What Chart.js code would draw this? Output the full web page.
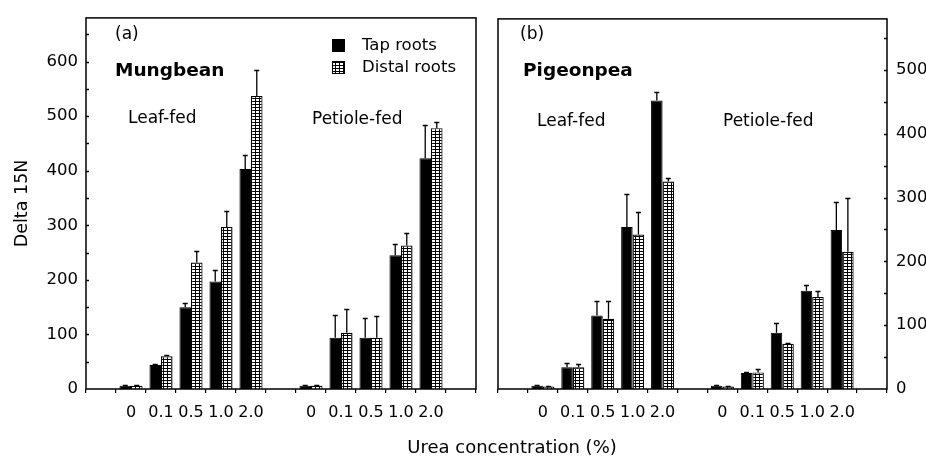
<!DOCTYPE html>
<html lang="en">
<head>
<meta charset="UTF-8">
<title>Delta 15N in roots</title>
<script src="https://cdn.jsdelivr.net/npm/chart.js"></script>
<style>
  body { margin: 0; background: #fff; }
  #wrap { position: relative; width: 926px; height: 457px; font-family: "DejaVu Sans", sans-serif; color: #000; }
  canvas { position: absolute; top: 0; }
  #chartA { left: 0; }
  #chartB { left: 480px; }
  .txt { position: absolute; white-space: nowrap; font-size: 17px; line-height: 1; transform: translateY(-50%); }
  .bold { font-weight: bold; font-size: 18.5px; }
</style>
</head>
<body>
<div id="wrap">
  <canvas id="chartA" width="480" height="457"></canvas>
  <canvas id="chartB" width="446" height="457"></canvas>

  <div class="txt" style="left:115px; top:33px">(a)</div>
  <div class="txt bold" style="left:115px; top:70px">Mungbean</div>
  <div class="txt" style="left:128px; top:117px">Leaf-fed</div>
  <div class="txt" style="left:312px; top:118px">Petiole-fed</div>

  <div class="txt" style="left:520px; top:33px">(b)</div>
  <div class="txt bold" style="left:523px; top:70px">Pigeonpea</div>
  <div class="txt" style="left:537px; top:120px">Leaf-fed</div>
  <div class="txt" style="left:723px; top:120px">Petiole-fed</div>

  <div class="txt" style="left:512px; top:447px; font-size:18px; transform:translate(-50%,-50%)">Urea concentration (%)</div>
</div>

<script>
// urea concentrations for each feeding method
const concentrations = ["0", "0.1", "0.5", "1.0", "2.0"];

// Mungbean (a)
const mungTapLeaf = [6, 44, 150, 197, 403];
const mungTapLeafSE = [1, 2, 7, 21, 26];
const mungDistalLeaf = [6, 60, 232, 297, 537];
const mungDistalLeafSE = [1, 2, 20, 29, 48];
const mungTapPetiole = [6, 94, 94, 245, 423];
const mungTapPetioleSE = [1, 41, 37, 21, 60];
const mungDistalPetiole = [6, 103, 94, 263, 478];
const mungDistalPetioleSE = [1, 43, 40, 23, 11];

// Pigeonpea (b)
const pigeonTapLeaf = [5, 34, 115, 254, 452];
const pigeonTapLeafSE = [1, 7, 23, 51, 14];
const pigeonDistalLeaf = [4, 34, 110, 242, 325];
const pigeonDistalLeafSE = [1, 5, 28, 36, 6];
const pigeonTapPetiole = [5, 25, 88, 154, 249];
const pigeonTapPetioleSE = [1, 1, 16, 9, 44];
const pigeonDistalPetiole = [4, 26, 71, 144, 215];
const pigeonDistalPetioleSE = [1, 5, 1, 9, 85];

const mungTicks = [0, 100, 200, 300, 400, 500, 600];
const pigeonTicks = [0, 100, 200, 300, 400, 500];

// slots on the x axis: gap, leaf-fed x5, gap, petiole-fed x5, gap
const slotLabels = ["", ...concentrations, "", ...concentrations, ""];
function slots(leaf, petiole) {
    return [null, ...leaf, null, ...petiole, null];
}

Chart.defaults.font.family = "'DejaVu Sans', sans-serif";
Chart.defaults.color = "#000";

// white cells in a thin black grid, like the distal roots fill
function dotPattern() {
    const c = document.createElement("canvas");
    c.width = 4; c.height = 3;
    const g = c.getContext("2d");
    g.fillStyle = "#000"; g.fillRect(0, 0, 4, 3);
    g.fillStyle = "#fff"; g.fillRect(0, 0, 3, 2);
    return g.createPattern(c, "repeat");
}
const pattern = dotPattern();

// error bars, box frame, inward y ticks and (optionally) the legend
const framePlugin = {
    id: "frame",
    afterDatasetsDraw(chart, args, opts) {
        const { ctx, chartArea: a } = chart;
        const y = chart.scales.y;
        ctx.save();
        ctx.strokeStyle = "#000";

        ctx.lineWidth = 1.3;
        chart.data.datasets.forEach((ds, i) => {
            chart.getDatasetMeta(i).data.forEach((bar, j) => {
                const v = ds.data[j];
                if (v == null) return;
                const top = Math.round(y.getPixelForValue(v + ds.se[j])) + 0.5;
                ctx.beginPath();
                ctx.moveTo(bar.x, bar.y);
                ctx.lineTo(bar.x, top);
                ctx.moveTo(bar.x - 2.5, top);
                ctx.lineTo(bar.x + 2.5, top);
                ctx.stroke();
            });
        });

        ctx.lineWidth = 1.5;
        ctx.strokeRect(a.left, a.top, a.right - a.left, a.bottom - a.top);

        const x0 = opts.side === "left" ? a.left : a.right;
        const dir = opts.side === "left" ? 1 : -1;
        ctx.beginPath();
        for (let v = 50; v <= y.max; v += 50) {
            const py = Math.round(y.getPixelForValue(v)) + 0.5;
            ctx.moveTo(x0, py);
            ctx.lineTo(x0 + dir * 3, py);
        }
        ctx.stroke();

        if (opts.legend) {
            ctx.fillStyle = "#000";
            ctx.fillRect(332, 39, 13, 13);
            ctx.fillStyle = pattern;
            ctx.fillRect(333, 62, 11, 11);
            ctx.lineWidth = 1;
            ctx.strokeRect(332.5, 61.5, 12, 12);
            ctx.fillStyle = "#000";
            ctx.font = "16.5px 'DejaVu Sans'";
            ctx.textBaseline = "middle";
            ctx.fillText("Tap roots", 362, 46);
            ctx.fillText("Distal roots", 362, 68);
        }
        ctx.restore();
    }
};

function makeChart(id, series, cfg) {
    return new Chart(document.getElementById(id), {
        type: "bar",
        data: {
            labels: slotLabels,
            datasets: [
                {
                    label: "Tap roots",
                    data: slots(series.tapLeaf, series.tapPetiole),
                    se: slots(series.tapLeafSE, series.tapPetioleSE),
                    backgroundColor: "#000",
                    borderColor: "#000",
                    borderWidth: 1
                },
                {
                    label: "Distal roots",
                    data: slots(series.distalLeaf, series.distalPetiole),
                    se: slots(series.distalLeafSE, series.distalPetioleSE),
                    backgroundColor: pattern,
                    borderColor: "#000",
                    borderWidth: 1.2
                }
            ]
        },
        options: {
            responsive: false,
            animation: false,
            layout: { padding: cfg.padding },
            datasets: { bar: { categoryPercentage: 0.77, barPercentage: 1 } },
            plugins: {
                legend: { display: false },
                tooltip: { enabled: false },
                frame: { side: cfg.side, legend: cfg.legend }
            },
            scales: {
                x: {
                    grid: { drawOnChartArea: false, tickLength: 4, color: "#000", lineWidth: 1.2 },
                    border: { display: false },
                    ticks: { font: { size: 16 }, padding: 10, maxRotation: 0, autoSkip: false },
                    afterFit(s) { s.height = 68; }
                },
                y: {
                    position: cfg.side,
                    min: 0,
                    max: cfg.max,
                    grid: { display: false, drawTicks: false, tickLength: 0 },
                    border: { display: false },
                    afterBuildTicks(s) { s.ticks = cfg.ticks.map(v => ({ value: v })); },
                    ticks: { font: { size: 16.5 }, padding: cfg.side === "left" ? 8 : 9 },
                    title: {
                        display: !!cfg.title,
                        text: cfg.title,
                        font: { size: 17.5 },
                        padding: { top: 12, bottom: 0 }
                    },
                    afterFit(s) { s.width = cfg.axisWidth; }
                }
            }
        },
        plugins: [framePlugin]
    });
}

makeChart("chartA", {
    tapLeaf: mungTapLeaf, tapLeafSE: mungTapLeafSE,
    tapPetiole: mungTapPetiole, tapPetioleSE: mungTapPetioleSE,
    distalLeaf: mungDistalLeaf, distalLeafSE: mungDistalLeafSE,
    distalPetiole: mungDistalPetiole, distalPetioleSE: mungDistalPetioleSE
}, {
    side: "left", max: 680, ticks: mungTicks, title: "Delta 15N", legend: true,
    axisWidth: 86, padding: { top: 15, right: 4, bottom: 0, left: 0 }
});

makeChart("chartB", {
    tapLeaf: pigeonTapLeaf, tapLeafSE: pigeonTapLeafSE,
    tapPetiole: pigeonTapPetiole, tapPetioleSE: pigeonTapPetioleSE,
    distalLeaf: pigeonDistalLeaf, distalLeafSE: pigeonDistalLeafSE,
    distalPetiole: pigeonDistalPetiole, distalPetioleSE: pigeonDistalPetioleSE
}, {
    side: "right", max: 580, ticks: pigeonTicks, title: "", legend: false,
    axisWidth: 39, padding: { top: 15, right: 0, bottom: 0, left: 18 }
});
</script>
</body>
</html>
